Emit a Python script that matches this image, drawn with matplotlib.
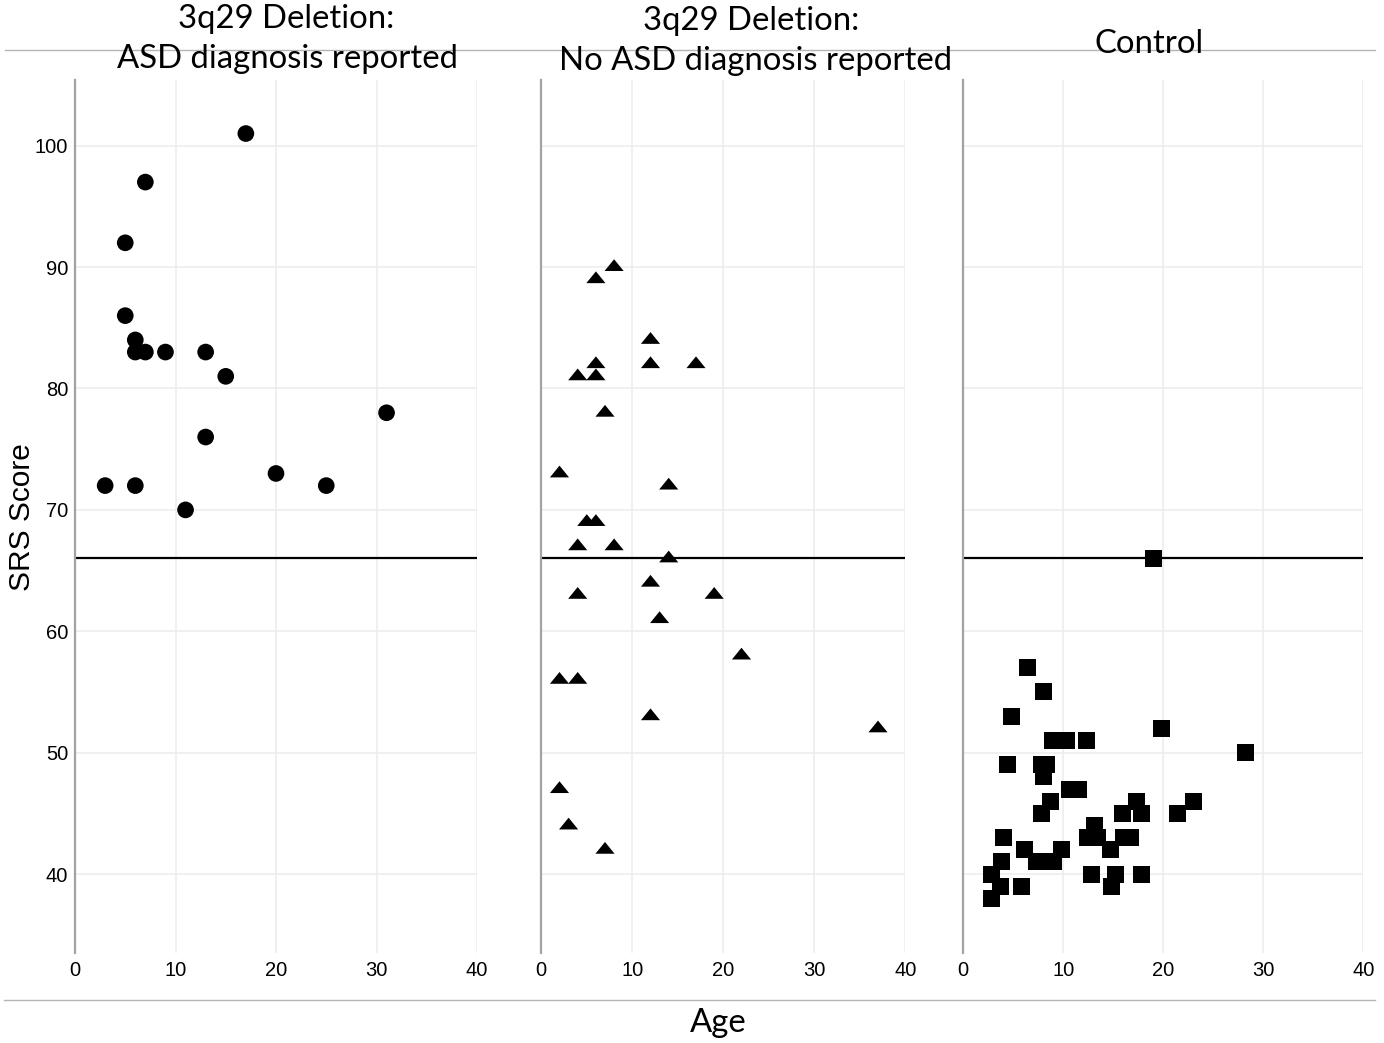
import matplotlib
matplotlib.use("Agg")
import matplotlib.pyplot as plt
from matplotlib.lines import Line2D

# ---------------- data ----------------
asd_age = [17, 7, 5, 5, 6, 6, 7, 9, 13, 15, 31, 13, 20, 3, 6, 25, 11]
asd_srs = [101, 97, 92, 86, 84, 83, 83, 83, 83, 81, 78, 76, 73, 72, 72, 72, 70]

noasd_age = [8, 6, 12, 6, 12, 17, 4, 6, 7, 2, 14, 5, 6, 4, 8, 14, 12, 4, 19,
             13, 22, 2, 4, 12, 37, 2, 3, 7]
noasd_srs = [90, 89, 84, 82, 82, 82, 81, 81, 78, 73, 72, 69, 69, 67, 67, 66, 64,
             63, 63, 61, 58, 56, 56, 53, 52, 47, 44, 42]

ctrl_age = [19.0, 6.4, 8.0, 4.8, 19.8, 8.9, 10.3, 12.3, 28.2, 4.4, 7.8, 8.3, 8.0,
            10.6, 11.5, 8.7, 17.3, 23.0, 7.8, 15.9, 17.8, 21.4, 13.1, 4.0, 12.4,
            13.4, 16.0, 16.7, 6.1, 9.8, 14.7, 3.8, 7.3, 9.0, 2.8, 12.8, 15.2,
            17.8, 3.7, 5.8, 14.8, 2.8]
ctrl_srs = [66, 57, 55, 53, 52, 51, 51, 51, 50, 49, 49, 49, 48,
            47, 47, 46, 46, 46, 45, 45, 45, 45, 44, 43, 43,
            43, 43, 43, 42, 42, 42, 41, 41, 41, 40, 40, 40,
            40, 39, 39, 39, 38]

cutoff = 66
x_ticks = [0, 10, 20, 30, 40]
y_ticks = [40, 50, 60, 70, 80, 90, 100]

# ---------------- figure ----------------
W, H = 1384, 1043
fig = plt.figure(figsize=(W / 100, H / 100), dpi=100)
fig.patch.set_facecolor("white")

def fx(px):
    return px / W

def fy(py):
    return 1 - py / H

top_px, bot_px = 80, 953
panels = [(75, 477), (541.3, 905.3), (963.3, 1363.3)]
ylim = (33.5, 105.41)

tri = [(-1, -0.41), (1, -0.41), (0, 0.82)]
series = [
    (asd_age, asd_srs, "o", 144),
    (noasd_age, noasd_srs, tri, 190),
    (ctrl_age, ctrl_srs, "s", 150),
]

for i, ((l, r), (xs, ys, mk, sz)) in enumerate(zip(panels, series)):
    ax = fig.add_axes([fx(l), fy(bot_px), fx(r) - fx(l), fy(top_px) - fy(bot_px)])
    ax.set_xlim(0, 40)
    ax.set_ylim(*ylim)
    ax.set_xticks(x_ticks)
    ax.set_yticks(y_ticks)
    ax.set_axisbelow(True)
    ax.grid(True, color="#ececec", linewidth=1.1)
    for s in ["top", "right", "bottom"]:
        ax.spines[s].set_visible(False)
    ax.spines["left"].set_color("#a3a3a3")
    ax.spines["left"].set_linewidth(1.6)
    ax.spines["left"].set_zorder(3)
    ax.tick_params(length=0, pad=6)
    ax.tick_params(axis="y", pad=5)
    for lab in ax.get_xticklabels():
        lab.set_fontfamily("Liberation Sans")
        lab.set_fontsize(14.5)
    if i == 0:
        for lab in ax.get_yticklabels():
            lab.set_fontfamily("Liberation Sans")
            lab.set_fontsize(14.5)
    else:
        ax.tick_params(axis="y", labelleft=False)
    ax.axhline(cutoff, color="black", linewidth=1.6, zorder=2)
    ax.scatter(xs, ys, marker=mk, s=sz, color="black", edgecolors="none",
               zorder=4, clip_on=False)

# titles
tfont = dict(family="Lato", size=23.7, color="black")
fig.text(fx(286), fy(28), "3q29 Deletion:", ha="center", va="baseline", **tfont)
fig.text(fx(287.5), fy(68), "ASD diagnosis reported", ha="center", va="baseline", **tfont)
fig.text(fx(751.5), fy(30), "3q29 Deletion:", ha="center", va="baseline", **tfont)
fig.text(fx(756), fy(70), "No ASD diagnosis reported", ha="center", va="baseline", **tfont)
fig.text(fx(1149), fy(53), "Control", ha="center", va="baseline", **tfont)
fig.text(fx(718), fy(1032), "Age", ha="center", va="baseline", **tfont)

# y label
fig.text(fx(22.5), fy(517.5), "SRS Score", rotation=90, ha="center", va="center",
         family="Liberation Sans", size=21.5)

# separator lines
fig.add_artist(Line2D([fx(5), fx(1375)], [fy(50), fy(50)], color="#b5b5b5", linewidth=1.0))
fig.add_artist(Line2D([fx(4), fx(1375)], [fy(1000), fy(1000)], color="#b5b5b5", linewidth=1.0))

fig.savefig("out.png", dpi=100, facecolor="white")
